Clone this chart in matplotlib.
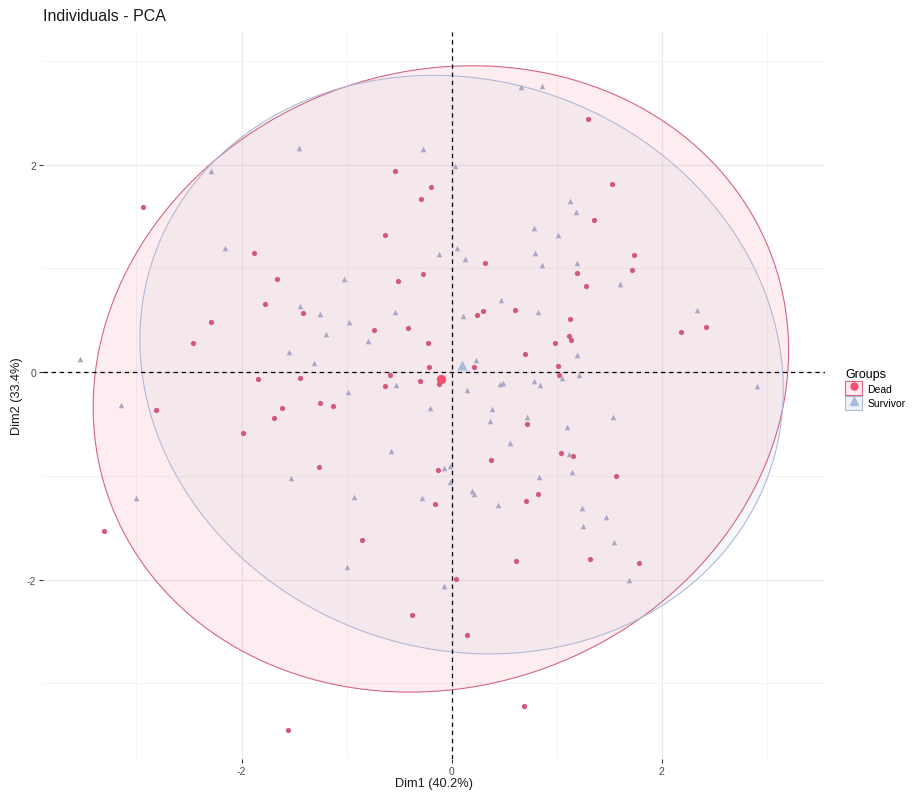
import numpy as np
import matplotlib.pyplot as plt
from matplotlib.patches import Patch, Polygon
from matplotlib.lines import Line2D

plt.rcParams["font.family"] = ["Liberation Sans", "DejaVu Sans"]
plt.rcParams["axes.unicode_minus"] = False

# Dead individuals (Dim1, Dim2)
dead_x = [-2.937, -0.543, -0.200, -0.295, -0.638, -1.883, -1.664, -0.270, -0.508, -1.778,
          -1.410, -2.295, -0.743, -0.413, -0.229, -2.464, -0.219, -1.842, -1.445, -0.588,
          -0.638, -0.305, -0.121, -2.813, -1.613, -1.689, -1.251, -1.130, -1.988, -1.261,
          -0.127, -0.156, -3.305, -0.851, 0.038, -0.375, -1.559, 1.301, 1.527, 1.358,
          1.739, 1.720, 0.320, 1.193, 1.282, 0.606, 0.241, 0.298, 1.127, 1.117,
          1.136, 0.987, 0.695, 2.184, 2.422, 0.212, 1.012, 1.025, 0.720, 0.371,
          1.044, 1.152, 1.565, 0.819, 0.705, 0.615, 1.317, 1.784, 0.143, 0.686]
dead_y = [1.591, 1.944, 1.784, 1.668, 1.321, 1.153, 0.897, 0.948, 0.880, 0.659,
          0.569, 0.488, 0.408, 0.424, 0.283, 0.283, 0.054, -0.061, -0.052, -0.026,
          -0.135, -0.081, -0.113, -0.364, -0.347, -0.444, -0.293, -0.328, -0.588, -0.913,
          -0.942, -1.270, -1.527, -1.617, -1.996, -2.337, -3.446, 2.440, 1.819, 1.466,
          1.134, 0.987, 1.054, 0.958, 0.835, 0.604, 0.553, 0.591, 0.514, 0.347,
          0.309, 0.283, 0.176, 0.389, 0.434, 0.051, 0.061, -0.026, -0.498, -0.846,
          -0.775, -0.810, -1.003, -1.174, -1.244, -1.820, -1.803, -1.839, -2.530, -3.215]

# Survivor individuals (Dim1, Dim2)
surv_x = [-1.451, -0.276, 0.031, -2.289, -2.159, -0.124, 0.048, -1.023, -1.442, -1.254,
          -0.537, -0.975, -1.197, -0.797, -1.547, -1.308, -3.533, -0.527, -0.984, -3.143,
          -0.204, -0.581, -0.070, -0.016, -0.016, -1.527, -3.004, -0.927, -0.283, -1.000,
          -0.073, 0.657, 0.863, 1.130, 1.181, 0.787, 1.012, 0.130, 0.790, 0.860,
          1.196, 1.606, 0.473, 0.108, 0.822, 2.336, 1.193, 0.231, 1.216, 1.054,
          0.143, 0.460, 0.489, 0.787, 0.841, 2.908, 0.384, 0.368, 0.714, 1.539,
          1.101, 0.558, 1.117, 1.143, 0.829, 0.190, 0.213, 0.438, 1.241, 1.470,
          1.250, 1.543, 1.691]
surv_y = [2.160, 2.153, 1.992, 1.938, 1.202, 1.144, 1.196, 0.903, 0.636, 0.562,
          0.581, 0.482, 0.369, 0.305, 0.193, 0.087, 0.128, -0.125, -0.190, -0.312,
          -0.341, -0.759, -0.926, -0.900, -1.061, -1.022, -1.212, -1.199, -1.209, -1.877,
          -2.064, 2.748, 2.764, 1.649, 1.549, 1.392, 1.318, 1.090, 1.150, 1.038,
          1.051, 0.855, 0.700, 0.546, 0.581, 0.601, 0.164, 0.119, -0.026, -0.055,
          -0.171, -0.113, -0.100, -0.087, -0.119, -0.129, -0.351, -0.473, -0.431, -0.431,
          -0.527, -0.679, -0.788, -0.961, -1.013, -1.141, -1.170, -1.283, -1.305, -1.395,
          -1.485, -1.636, -2.003]

# group means and ellipse shape
dead_center = [-0.102, -0.065]
surv_center = [0.095, 0.073]
dead_shape = [[10.96, 0.90], [0.90, 9.12]]
surv_shape = [[9.38, -0.74], [-0.74, 7.78]]

groups = ["Dead", "Survivor"]
pt_colors = ["#D4587C", "#A8A8C6"]
mean_colors = ["#F2506E", "#A7BCDA"]
fill_colors = ["#F8506E", "#A6BDDB"]
edge_colors = ["#D26683", "#B2B8D6"]


def ellipse_xy(center, shape, n=200):
    t = np.linspace(0, 2 * np.pi, n)
    L = np.linalg.cholesky(np.array(shape))
    pts = L @ np.vstack([np.cos(t), np.sin(t)])
    return np.column_stack([pts[0] + center[0], pts[1] + center[1]])


fig = plt.figure(figsize=(9.13, 8.03), dpi=100)
ax = fig.add_axes([0.0471, 0.0535, 0.8565, 0.9054])
ax.set_xlim(-3.89, 3.555)
ax.set_ylim(-3.73, 3.28)

for s in ax.spines.values():
    s.set_visible(False)
ax.set_xticks([-2, 0, 2])
ax.set_yticks([-2, 0, 2])
ax.set_xticks([-3, -1, 1, 3], minor=True)
ax.set_yticks([-3, -1, 1, 3], minor=True)
ax.grid(True, which="major", color="#EBEBEB", linewidth=0.9)
ax.grid(True, which="minor", color="#F2F2F2", linewidth=0.6)
ax.set_axisbelow(True)
ax.tick_params(which="major", length=3, width=0.8, color="#333333",
               labelsize=7.5, labelcolor="#4D4D4D", pad=2)
ax.tick_params(which="minor", length=0)

centers = [dead_center, surv_center]
shapes = [dead_shape, surv_shape]
for i in range(2):
    xy = ellipse_xy(centers[i], shapes[i])
    ax.add_patch(Polygon(xy, closed=True, facecolor=fill_colors[i], alpha=0.1,
                         edgecolor="none", zorder=1))
    ax.add_patch(Polygon(xy, closed=True, facecolor="none",
                         edgecolor=edge_colors[i], linewidth=0.8, zorder=2))

ax.axhline(0, color="black", linestyle=(0, (3.5, 3)), linewidth=0.9, zorder=3)
ax.axvline(0, color="black", linestyle=(0, (3.5, 3)), linewidth=0.9, zorder=3)

ax.scatter(dead_x, dead_y, s=14, marker="o", color=pt_colors[0], linewidths=0, zorder=4)
ax.scatter(surv_x, surv_y, s=16, marker="^", color=pt_colors[1], linewidths=0, zorder=4)
ax.scatter([dead_center[0]], [dead_center[1]], s=45, marker="o", color=mean_colors[0],
           linewidths=0, zorder=5)
ax.scatter([surv_center[0]], [surv_center[1]], s=55, marker="^", color=mean_colors[1],
           linewidths=0, zorder=5)

ax.set_xlabel("Dim1 (40.2%)", fontsize=9.2, color="#1A1A1A", labelpad=1)
ax.set_ylabel("Dim2 (33.4%)", fontsize=9.2, color="#1A1A1A", labelpad=3)
ax.set_title("Individuals - PCA", loc="left", fontsize=11.5, color="#1A1A1A", pad=9)

handles = [
    (Patch(facecolor="#FDEBEF", edgecolor=edge_colors[0], linewidth=0.8),
     Line2D([], [], marker="o", linestyle="none", markersize=5, color=mean_colors[0])),
    (Patch(facecolor="#EEF2F8", edgecolor=edge_colors[1], linewidth=0.8),
     Line2D([], [], marker="^", linestyle="none", markersize=6, color=mean_colors[1])),
]
leg = fig.legend(handles, groups, title="Groups", loc="upper left",
                 bbox_to_anchor=(0.918, 0.549), frameon=False, fontsize=7.5,
                 title_fontsize=9, handlelength=1.6, handleheight=1.75,
                 handletextpad=0.5, labelspacing=0.05, borderpad=0.2)
leg._legend_box.align = "left"

fig.savefig("out.png", dpi=100)
